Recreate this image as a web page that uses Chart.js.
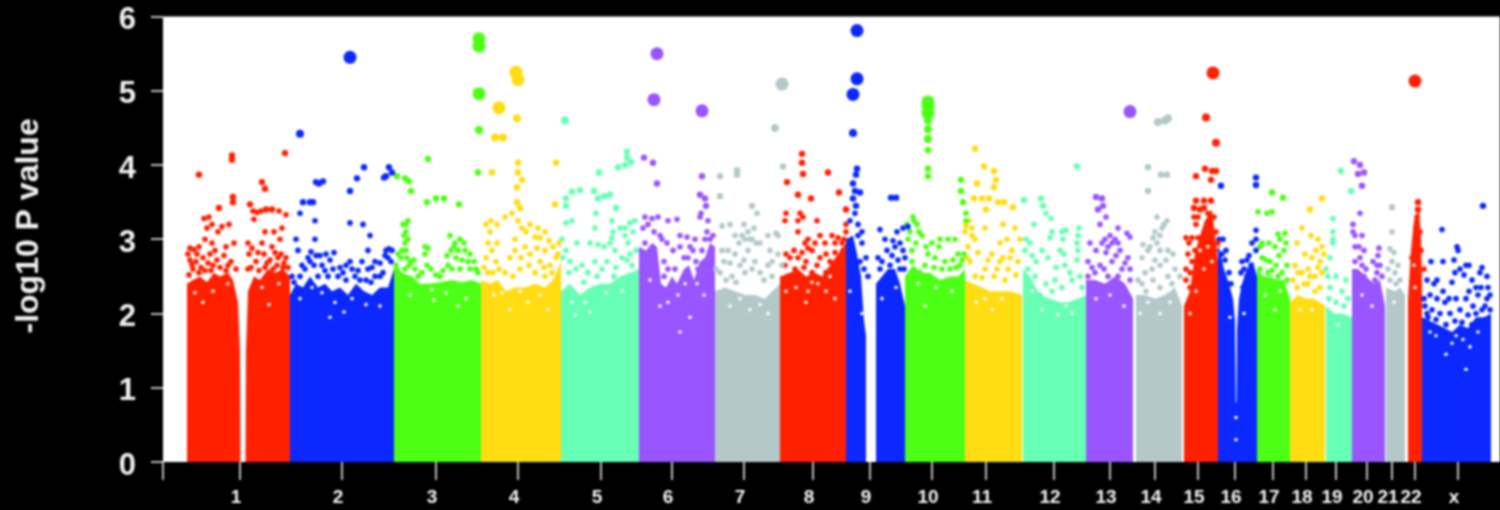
<!DOCTYPE html>
<html><head><meta charset="utf-8">
<style>html,body{margin:0;padding:0;background:#000;overflow:hidden}#w{width:1500px;height:510px}canvas{filter:blur(0.9px)}</style>
<script src="https://cdn.jsdelivr.net/npm/chart.js@4/dist/chart.umd.min.js"></script>
</head><body><div id="w"><canvas id="c" width="1500" height="510"></canvas></div>
<script>
const yTickValues=[0,1,2,3,4,5,6];
const chromLabels=['1','2','3','4','5','6','7','8','9','10','11','12','13','14','15','16','17','18','19','20','21','22','x'];
const chromTicks=[240,342,436,518,601,672,744,813,870,932,986,1054,1110,1155,1198,1235,1273,1306,1336,1367,1392,1415,1458];
const originTick=163;
const red='#ff2000',blue='#0a28ff',green='#4cff14',gold='#ffdd12',aqua='#66ffb4',purple='#9955ff',grey='#b4c8ca';
const chromColors=[red,blue,green,gold,aqua,purple,grey,red,blue,green,gold,aqua,purple,grey,red,blue,green,gold,aqua,purple,grey,red,blue];

// dense lower mass of each chromosome: [position, -log10 P] outline
const body1=[[187,0],[187,2.4],[193,2.45],[200,2.5],[207,2.42],[214,2.55],[220,2.5],[228,2.55],[233,2.45],[238,2.15],[240,1.5],[240.5,0],[245.5,0],[246,1.5],[248,2.3],[254,2.5],[260,2.45],[268,2.6],[275,2.55],[283,2.6],[290,2.5],[290,0]];
const body2=[[290,0],[290,2.25],[296,2.4],[303,2.35],[310,2.5],[318,2.35],[325,2.4],[332,2.3],[340,2.35],[348,2.25],[356,2.4],[364,2.3],[372,2.25],[380,2.35],[388,2.35],[394,2.6],[394,0]];
const body3=[[394,0],[394,2.7],[402,2.55],[412,2.5],[420,2.4],[430,2.4],[440,2.42],[452,2.45],[462,2.42],[472,2.45],[481,2.4],[481,0]];
const body4=[[481,0],[481,2.45],[490,2.4],[498,2.45],[506,2.3],[515,2.35],[525,2.35],[535,2.4],[545,2.35],[553,2.45],[561,2.7],[561,0]];
const body5=[[561,0],[561,2.3],[570,2.4],[580,2.25],[590,2.35],[600,2.4],[610,2.4],[620,2.5],[630,2.55],[639,2.6],[639,0]];
const body6=[[639,0],[639,2.9],[646,2.85],[652,2.95],[657,2.9],[661,2.4],[666,2.35],[672,2.5],[677,2.4],[684,2.6],[689,2.65],[694,2.45],[700,2.7],[705,2.75],[710,2.95],[715,2.9],[715,0]];
const body7=[[715,0],[715,2.3],[725,2.35],[735,2.3],[745,2.25],[755,2.25],[765,2.2],[772,2.3],[780,2.4],[780,0]];
const body8=[[780,0],[780,2.5],[790,2.55],[798,2.6],[806,2.5],[815,2.55],[822,2.5],[830,2.65],[838,2.8],[846,2.95],[846,0]];
const body9=[[846,0],[846,3.0],[853,3.05],[857,2.8],[861,2.5],[864,1.9],[866,1.7],[866,0],[876,0],[876,2.4],[882,2.5],[888,2.6],[895,2.6],[900,2.4],[905,2.1],[905,0]];
const body10=[[905,0],[905,2.5],[913,2.65],[922,2.55],[930,2.55],[940,2.45],[950,2.5],[958,2.5],[965,2.6],[965,0]];
const body11=[[965,0],[965,2.45],[973,2.4],[982,2.35],[990,2.3],[1000,2.3],[1010,2.3],[1022,2.25],[1022,0]];
const body12=[[1023,0],[1023,2.6],[1030,2.5],[1040,2.25],[1050,2.2],[1060,2.15],[1068,2.15],[1078,2.2],[1086,2.25],[1086,0]];
const body13=[[1086,0],[1086,2.45],[1095,2.45],[1105,2.4],[1115,2.5],[1125,2.4],[1133,2.2],[1133,0]];
const body14=[[1136,0],[1136,2.25],[1145,2.25],[1155,2.2],[1165,2.25],[1175,2.35],[1182,2.1],[1182,0]];
const body15=[[1184,0],[1184,2.1],[1190,2.3],[1195,2.8],[1200,3.05],[1205,3.25],[1212,3.4],[1215,3.05],[1218,2.7],[1218,0]];
const body16=[[1218,0],[1218,2.95],[1224,2.6],[1229,2.4],[1233,2.2],[1235,1.9],[1235.7,0.8],[1236.5,0.8],[1237,1.8],[1239,2.2],[1242,2.4],[1247,2.6],[1253,2.7],[1257,2.5],[1257,0]];
const body17=[[1257,0],[1257,2.6],[1264,2.5],[1270,2.5],[1277,2.45],[1284,2.45],[1290,2.2],[1290,0]];
const body18=[[1290,0],[1290,2.15],[1298,2.25],[1306,2.2],[1314,2.2],[1325,2.1],[1325,0]];
const body19=[[1326,0],[1326,2.1],[1334,2.0],[1342,2.0],[1352,1.95],[1352,0]];
const body20=[[1352,0],[1352,2.6],[1358,2.6],[1366,2.5],[1374,2.4],[1380,2.45],[1385,2.1],[1385,0]];
const body21=[[1386,0],[1386,2.35],[1395,2.3],[1400,2.35],[1405,2.25],[1405,0]];
const body22=[[1408,0],[1408,2.2],[1411,2.85],[1414,3.25],[1419,3.4],[1421,3.0],[1422,2.4],[1422,0]];
const bodyX=[[1422,0],[1422,1.95],[1430,1.9],[1438,1.85],[1445,1.8],[1452,1.75],[1460,1.85],[1468,1.8],[1476,1.95],[1484,1.95],[1491,2.0],[1491,0]];

// individually visible points: [position, -log10 P]
const dots1=[[199,3.87],[232,4.13],[232,4.07],[285,4.16],[262,3.77],[265,3.68],[233,3.57],[233,3.5],[250,3.47],[219,3.42],[204,3.28],[209,3.3],[253,3.38],[257,3.36],[261,3.38],[266,3.4],[272,3.4],[279,3.38],[286,3.33],[254,3.27],[212,3.2],[207,3.15],[222,3.17],[229,3.2],[218,3.1],[265,3.1],[274,3.1],[282,3.15],[234,2.95],[248,2.95],[190,2.88],[194,2.86],[199,2.9],[205,3.0],[212,2.95],[226,2.9],[262,2.95],[272,2.9],[280,3.0],[190,2.72],[196,2.7],[203,2.75],[210,2.8],[217,2.72],[224,2.78],[231,2.7],[249,2.8],[256,2.7],[264,2.8],[270,2.72],[278,2.75],[284,2.68],[193,2.6],[205,2.58],[213,2.65],[236,2.6],[251,2.62],[259,2.58],[273,2.6],[288,2.62],[188,2.8],[192,2.66],[197,2.8],[201,2.62],[208,2.68],[215,2.85],[220,2.62],[228,2.65],[252,2.88],[258,2.82],[267,2.68],[275,2.82],[281,2.8],[286,2.75],[248,2.6],[265,2.62],[189,2.52],[199,2.55],[211,2.58],[226,2.58],[283,2.62],[277,2.65]];
const dots2=[[350,5.45],[300,4.42],[364,3.97],[389,3.97],[392,3.9],[386,3.85],[384,3.83],[316,3.77],[319,3.75],[323,3.78],[357,3.82],[350,3.65],[303,3.5],[310,3.5],[313,3.5],[300,3.35],[315,3.25],[350,3.22],[363,3.2],[370,3.05],[296,3.0],[315,3.0],[389,2.87],[386,2.85],[298,2.85],[311,2.83],[316,2.78],[326,2.8],[334,2.82],[368,2.85],[388,2.75],[302,2.65],[310,2.7],[322,2.65],[333,2.6],[346,2.65],[352,2.6],[362,2.7],[368,2.6],[375,2.7],[292,2.5],[300,2.5],[318,2.5],[328,2.5],[338,2.5],[346,2.45],[355,2.5],[366,2.45],[375,2.5],[383,2.55],[308,2.75],[314,2.65],[320,2.78],[330,2.72],[340,2.62],[350,2.7],[358,2.58],[372,2.62],[380,2.68],[385,2.78],[391,2.7],[294,2.42],[305,2.6],[325,2.58],[343,2.55],[360,2.45],[371,2.42],[380,2.5],[392,2.85]];
const dots3=[[479,5.7],[479,5.6],[479,4.96],[479,4.47],[478,3.9],[428,4.08],[397,3.85],[405,3.82],[409,3.78],[411,3.65],[427,3.5],[436,3.55],[444,3.55],[459,3.47],[408,3.25],[406,3.2],[428,2.88],[425,2.9],[405,2.95],[406,2.85],[398,2.8],[401,2.75],[407,2.75],[411,2.7],[404,3.05],[406,3.1],[450,3.05],[454,2.9],[460,3.0],[464,2.95],[455,2.95],[447,2.78],[456,2.75],[465,2.85],[470,2.8],[425,2.8],[427,2.65],[405,2.6],[415,2.6],[452,2.6],[460,2.6],[470,2.6],[478,2.55],[398,2.55],[440,2.5],[403,3.2],[408,3.0],[396,2.65],[402,2.85],[409,2.65],[414,2.72],[422,2.55],[431,2.6],[443,2.58],[448,2.65],[451,2.85],[458,2.85],[462,2.72],[468,2.7],[474,2.7],[476,2.6],[436,2.52],[418,2.5]];
const dots4=[[516,5.25],[518,5.15],[499,4.77],[517,4.63],[495,4.37],[503,4.37],[518,4.03],[556,4.03],[518,3.9],[522,3.8],[517,3.7],[492,3.9],[517,3.5],[520,3.42],[512,3.35],[555,3.47],[505,3.3],[530,3.2],[491,3.25],[497,3.2],[522,3.15],[538,3.15],[545,3.1],[535,3.03],[490,3.1],[488,2.95],[497,2.95],[515,3.0],[525,2.9],[545,2.85],[553,2.9],[559,2.95],[486,2.75],[496,2.7],[510,2.75],[530,2.8],[540,2.7],[550,2.65],[488,2.55],[505,2.55],[520,2.6],[535,2.55],[545,2.5],[518,3.25],[526,3.1],[540,3.02],[549,2.98],[492,2.85],[486,3.2],[499,2.6],[515,2.85],[521,2.75],[529,2.65],[537,2.88],[544,2.62],[556,2.75],[484,2.62],[493,2.55],[513,2.5],[552,2.55],[558,2.8]];
const dots5=[[565,4.6],[599,3.9],[618,3.97],[625,4.0],[631,4.04],[627,4.18],[627,4.1],[580,3.66],[572,3.64],[566,3.55],[566,3.45],[594,3.65],[598,3.55],[604,3.58],[610,3.6],[616,3.42],[596,3.35],[566,3.22],[572,3.25],[595,3.15],[612,3.25],[613,3.1],[620,3.15],[625,3.05],[630,3.22],[635,3.25],[628,2.95],[630,2.8],[562,3.0],[566,2.85],[577,2.95],[590,2.95],[598,2.93],[604,2.9],[610,2.95],[615,2.85],[622,2.75],[570,2.7],[582,2.65],[602,2.6],[632,2.65],[612,3.02],[625,3.15],[633,3.1],[563,2.75],[569,2.55],[576,2.6],[588,2.55],[595,2.7],[607,2.7],[616,2.62],[627,2.72],[636,2.85],[584,2.42],[597,2.5],[614,2.5]];
const dots6=[[657,5.5],[654,4.88],[702,4.73],[644,4.1],[653,4.03],[702,3.85],[657,3.75],[700,3.6],[705,3.55],[706,3.45],[701,3.35],[708,3.25],[700,3.3],[713,3.05],[707,3.1],[645,3.3],[652,3.28],[658,3.3],[668,3.25],[677,3.27],[643,3.15],[648,3.2],[654,3.1],[662,3.0],[680,3.05],[687,3.03],[695,3.0],[710,3.0],[645,2.95],[680,2.9],[690,2.9],[702,2.85],[684,2.75],[696,2.7],[708,2.7],[668,2.6],[673,2.85],[688,2.75],[700,2.5],[710,2.5],[664,2.7],[675,2.6],[693,2.85],[698,2.6],[705,3.0],[667,2.95],[660,3.05],[664,2.5]];
const dots7=[[782,5.09],[775,4.5],[737,3.93],[737,3.87],[720,3.85],[783,3.98],[720,3.58],[752,3.45],[757,3.35],[730,3.2],[722,3.18],[744,3.2],[748,3.1],[754,3.15],[768,3.05],[778,3.05],[735,3.05],[745,3.0],[752,3.0],[760,2.95],[728,2.85],[735,2.8],[748,2.85],[778,2.8],[724,2.7],[740,2.65],[755,2.7],[772,2.7],[782,2.65],[720,2.55],[732,2.5],[745,2.55],[760,2.55],[772,2.5],[742,3.05],[739,2.95],[750,3.0],[756,2.95],[776,3.08],[770,2.85],[768,2.65],[730,2.68],[744,2.72],[722,2.85],[716,2.6],[752,2.6],[764,2.45],[736,2.42],[726,2.45]];
const dots8=[[802,4.15],[802,4.03],[803,3.88],[828,3.9],[787,3.77],[839,3.63],[798,3.6],[811,3.55],[786,3.35],[785,3.25],[800,3.35],[803,3.3],[798,3.25],[817,3.25],[846,3.4],[846,3.2],[846,3.1],[798,3.1],[808,3.0],[820,3.05],[805,2.95],[812,2.85],[825,2.95],[835,2.95],[843,2.85],[790,2.75],[798,2.75],[806,2.7],[820,2.75],[830,2.7],[840,2.7],[785,2.65],[795,2.6],[826,2.55],[812,2.55],[836,2.55],[788,2.5],[802,2.82],[815,2.95],[808,2.88],[832,3.05],[838,3.02],[844,3.0],[786,2.8],[794,2.85],[826,2.8],[817,2.65],[804,2.62],[842,2.95],[835,2.82]];
const dots9=[[857,5.81],[857,5.16],[853,4.95],[853,4.43],[857,3.95],[856,3.87],[853,3.75],[855,3.65],[860,3.63],[853,3.55],[856,3.45],[855,3.35],[858,3.2],[891,3.56],[896,3.56],[880,3.13],[897,3.1],[903,3.15],[908,3.17],[893,2.98],[885,3.0],[887,2.85],[895,2.9],[900,2.95],[905,2.75],[882,2.7],[890,2.65],[900,2.6],[858,3.05],[862,2.95],[866,2.75],[868,2.5],[860,2.7],[864,2.6],[850,3.25],[862,3.1],[878,2.75],[892,2.78],[898,2.72],[903,2.85],[904,2.6],[880,2.6]];
const dots10=[[928,4.85],[928,4.8],[928,4.7],[928,4.6],[928,4.48],[928,4.35],[928,4.2],[928,3.95],[928,3.85],[961,3.8],[961,3.65],[963,3.5],[966,3.35],[966,3.25],[913,3.3],[917,3.2],[910,3.1],[922,3.05],[932,2.95],[940,3.0],[948,3.0],[955,3.0],[928,2.8],[912,2.85],[925,2.65],[935,2.75],[945,2.7],[958,2.8],[962,2.72],[912,2.7],[920,2.55],[950,2.6],[907,3.2],[914,3.25],[919,3.1],[926,2.9],[908,3.0],[916,2.95],[939,2.9],[953,2.72],[960,2.65],[964,2.8],[934,2.62],[942,2.6],[956,2.62]];
const dots11=[[975,4.22],[984,3.98],[994,3.92],[996,3.8],[994,3.7],[977,3.75],[974,3.55],[982,3.55],[989,3.55],[998,3.5],[1004,3.5],[1013,3.43],[986,3.4],[969,3.25],[972,3.15],[965,3.1],[985,3.15],[1003,3.2],[1015,3.15],[1007,3.0],[1000,2.95],[1020,3.0],[968,2.9],[975,3.0],[992,2.8],[1003,2.75],[1012,2.85],[970,2.7],[985,2.6],[997,2.6],[1008,2.6],[1018,2.7],[975,2.5],[1005,2.45],[966,3.18],[972,3.05],[967,2.75],[978,2.82],[988,2.72],[994,2.5],[1000,2.7],[1016,2.52],[1010,2.75],[982,2.48]];
const dots12=[[1077,3.98],[1024,3.53],[1041,3.55],[1043,3.45],[1046,3.35],[1051,3.28],[1034,3.2],[1050,3.02],[1052,3.1],[1062,3.1],[1066,3.12],[1079,3.15],[1078,3.05],[1026,3.0],[1030,2.95],[1042,2.85],[1060,2.85],[1078,2.85],[1036,2.7],[1048,2.75],[1065,2.65],[1028,2.6],[1035,2.5],[1046,2.4],[1055,2.45],[1062,2.35],[1072,2.45],[1080,2.5],[1026,2.3],[1040,2.25],[1063,3.0],[1077,2.95],[1064,2.8],[1077,2.72],[1025,2.85],[1032,2.78],[1056,2.62],[1070,2.55],[1052,2.3],[1082,2.35]];
const dots13=[[1130,4.72],[1096,3.57],[1102,3.55],[1103,3.45],[1098,3.4],[1106,3.3],[1100,3.2],[1118,3.15],[1127,3.08],[1130,3.03],[1105,3.0],[1110,3.05],[1115,3.0],[1090,2.95],[1096,2.85],[1108,2.9],[1120,2.85],[1128,2.75],[1088,2.7],[1100,2.65],[1112,2.7],[1122,2.6],[1095,2.55],[1108,2.5],[1118,2.5],[1130,2.45],[1106,2.82],[1112,2.95],[1102,2.95],[1118,2.95],[1125,2.68],[1092,2.62],[1116,2.78],[1130,2.6],[1088,2.5],[1104,2.6]];
const dots14=[[1158,4.58],[1165,4.6],[1168,4.63],[1148,3.97],[1161,3.87],[1167,3.87],[1148,3.65],[1157,3.3],[1167,3.25],[1162,3.15],[1155,3.1],[1160,3.05],[1157,2.95],[1143,2.93],[1150,2.9],[1160,2.85],[1168,2.85],[1173,2.8],[1142,2.75],[1160,2.65],[1175,2.6],[1145,2.55],[1153,2.45],[1168,2.5],[1142,2.4],[1160,2.35],[1164,3.2],[1153,3.02],[1148,2.85],[1155,2.72],[1166,2.72],[1146,2.3],[1172,2.4],[1152,2.6],[1180,2.5],[1138,2.45]];
const dots15=[[1213,5.24],[1206,4.64],[1216,4.3],[1205,3.95],[1212,3.92],[1216,3.92],[1196,3.85],[1211,3.8],[1196,3.52],[1204,3.52],[1211,3.52],[1194,3.42],[1200,3.4],[1194,3.3],[1208,3.35],[1196,3.2],[1186,3.02],[1192,3.02],[1198,3.02],[1188,2.8],[1195,2.85],[1192,2.7],[1200,2.75],[1186,2.6],[1195,2.5],[1190,2.35],[1202,2.4],[1204,3.42],[1198,3.3],[1214,3.3],[1186,2.45],[1190,2.55],[1216,3.1],[1218,2.95],[1215,2.85],[1189,2.95]];
const dots16=[[1221,3.72],[1219,3.0],[1223,3.0],[1226,2.85],[1229,2.55],[1228,2.4],[1256,3.83],[1256,3.73],[1256,3.12],[1256,3.0],[1252,2.95],[1256,2.85],[1242,2.7],[1247,2.72],[1251,2.65],[1241,2.55],[1247,2.5],[1253,2.5],[1243,2.35],[1225,2.72],[1222,2.8],[1231,2.4],[1249,2.78],[1244,2.6]];
const dots17=[[1272,3.63],[1283,3.56],[1258,3.37],[1267,3.35],[1272,3.37],[1278,3.07],[1285,3.08],[1280,3.0],[1262,2.95],[1269,2.95],[1286,2.95],[1275,2.9],[1284,2.85],[1262,2.75],[1270,2.7],[1276,2.65],[1260,2.6],[1268,2.55],[1282,2.55],[1287,2.65],[1260,2.9],[1266,2.72],[1279,2.78],[1272,2.58],[1287,2.45],[1278,2.5]];
const dots18=[[1322,3.55],[1310,3.4],[1302,3.15],[1311,3.05],[1318,3.0],[1322,2.9],[1297,2.95],[1305,2.8],[1312,2.75],[1320,2.7],[1295,2.65],[1302,2.55],[1315,2.5],[1322,2.55],[1308,2.4],[1297,2.35],[1315,2.3],[1320,2.35],[1316,2.85],[1324,2.8],[1298,2.55],[1308,2.6],[1293,2.45],[1304,2.4],[1318,2.62],[1310,2.5]];
const dots19=[[1341,3.92],[1351,3.65],[1333,3.28],[1333,3.0],[1333,2.95],[1330,2.75],[1326,2.6],[1336,2.5],[1346,2.45],[1330,2.35],[1342,2.3],[1348,2.2],[1336,2.15],[1333,3.1],[1328,2.5],[1344,2.1],[1329,2.2]];
const dots20=[[1354,4.05],[1360,4.0],[1358,3.88],[1364,3.9],[1362,3.72],[1360,3.35],[1353,3.2],[1355,3.05],[1359,2.9],[1364,2.85],[1379,2.88],[1377,2.65],[1355,2.7],[1362,2.65],[1373,2.7],[1377,2.55],[1356,2.5],[1364,2.5],[1375,2.45],[1382,2.5],[1353,3.1],[1362,3.05],[1355,2.9],[1378,2.78],[1380,2.65],[1360,2.75],[1366,2.6]];
const dots21=[[1392,3.43],[1392,3.1],[1390,2.87],[1394,2.82],[1398,2.65],[1395,2.55],[1400,2.45],[1390,2.45],[1392,2.7],[1388,2.6],[1396,2.4]];
const dots22=[[1415,5.13],[1418,3.5],[1418,3.4],[1420,3.1],[1421,2.85],[1412,2.75],[1424,2.6],[1417,3.3],[1416,3.15],[1415,2.95]];
const dotsX=[[1483,3.45],[1442,3.13],[1457,2.9],[1458,2.85],[1431,2.7],[1443,2.7],[1454,2.72],[1466,2.65],[1469,2.65],[1482,2.62],[1455,2.55],[1460,2.6],[1472,2.45],[1480,2.55],[1427,2.45],[1437,2.45],[1487,2.5],[1481,2.35],[1488,2.35],[1478,2.25],[1487,2.2],[1430,2.25],[1437,2.2],[1445,2.15],[1456,2.2],[1466,2.2],[1473,2.1],[1482,2.05],[1490,2.05],[1425,2.1],[1432,2.05],[1440,2.0],[1450,2.0],[1460,2.05],[1468,1.98],[1476,2.0],[1428,1.95],[1436,1.92],[1446,1.85],[1455,1.9],[1462,1.88],[1472,1.85],[1488,1.9],[1424,2.2],[1434,2.4],[1452,2.42],[1464,2.52],[1476,2.35],[1443,2.3],[1449,2.2],[1427,2.0],[1485,2.1],[1469,2.3],[1490,2.25]];
const allBodies=[body1,body2,body3,body4,body5,body6,body7,body8,body9,body10,body11,body12,body13,body14,body15,body16,body17,body18,body19,body20,body21,body22,bodyX];
const allDots=[dots1,dots2,dots3,dots4,dots5,dots6,dots7,dots8,dots9,dots10,dots11,dots12,dots13,dots14,dots15,dots16,dots17,dots18,dots19,dots20,dots21,dots22,dotsX];
// empty specks inside the dense mass
const gaps=[[195,2.28],[213,2.3],[228,2.4],[262,2.35],[279,2.4],[203,2.15],[269,2.12],[300,2.2],[322,2.28],[335,2.15],[352,2.2],[366,2.12],[380,2.1],[312,2.35],[344,2.02],[330,1.95],[410,2.25],[434,2.18],[446,2.28],[466,2.2],[432,2.32],[458,2.1],[494,2.25],[510,2.05],[528,2.15],[548,2.05],[502,2.28],[520,2.3],[540,2.25],[572,2.15],[585,2.15],[606,2.28],[622,2.3],[575,1.98],[590,2.02],[668,2.15],[678,2.25],[690,1.95],[704,2.25],[650,2.45],[680,1.75],[697,2.4],[685,2.4],[660,2.1],[730,2.1],[750,2.05],[760,2.12],[740,2.2],[768,2.0],[786,2.3],[808,2.3],[812,2.42],[826,2.3],[835,2.2],[818,2.4],[806,2.15],[796,2.35],[830,2.5],[882,2.2],[896,2.35],[850,2.3],[862,2.0],[918,2.4],[936,2.35],[952,2.3],[925,2.1],[976,2.15],[992,2.05],[1002,2.2],[985,2.2],[1042,2.05],[1058,1.98],[1072,2.0],[1066,2.1],[1032,2.3],[1096,2.2],[1110,2.25],[1124,2.1],[1148,2.15],[1160,2.0],[1170,2.15],[1140,2.0],[1190,2.0],[1196,2.3],[1204,2.6],[1208,2.9],[1200,2.85],[1212,2.7],[1230,1.95],[1236,0.6],[1236,0.3],[1244,2.0],[1265,2.25],[1280,2.3],[1275,2.05],[1300,2.05],[1312,2.05],[1338,1.85],[1362,2.25],[1372,2.1],[1394,2.15],[1436,1.7],[1446,1.45],[1452,1.6],[1463,1.65],[1466,1.25],[1470,1.55],[1478,1.75],[1430,1.75],[1456,1.7],[1414,2.65],[1415,2.35]];

const datasets=[];
const radiusFor=v=>v>=4.7?6.5:v>=4.25?4:v>=3.4?3.2:2.8;
allDots.forEach((d,i)=>datasets.push({type:'scatter',order:1,label:'chr'+chromLabels[i],data:d.map(p=>({x:p[0],y:p[1]})),backgroundColor:chromColors[i],borderWidth:0,pointRadius:c=>radiusFor(c.parsed.y),pointHoverRadius:3,clip:false}));
datasets.push({type:'scatter',order:2,label:'gaps',data:gaps.map(p=>({x:p[0],y:p[1]})),backgroundColor:'#fff',borderWidth:0,pointRadius:1.8});
allBodies.forEach((d,i)=>datasets.push({type:'scatter',order:3,label:'mass'+chromLabels[i],data:d.map(p=>({x:p[0],y:p[1]})),showLine:true,fill:'origin',backgroundColor:chromColors[i],borderColor:chromColors[i],borderWidth:0,pointRadius:0,tension:0}));

const plotWhite={id:'plotWhite',beforeDraw(c){const a=c.chartArea,g=c.ctx;g.save();g.fillStyle='#000';g.fillRect(0,0,c.width,c.height);g.fillStyle='#fff';g.fillRect(a.left,a.top,a.right-a.left,a.bottom-a.top);g.restore();}};

new Chart(document.getElementById('c'),{
  data:{datasets},
  plugins:[plotWhite],
  options:{
    responsive:false,animation:false,
    layout:{autoPadding:false,padding:{top:16.5,left:0,right:0,bottom:0}},
    plugins:{legend:{display:false},tooltip:{enabled:false}},
    scales:{
      x:{type:'linear',min:163,max:1500,
        afterBuildTicks(s){s.ticks=[originTick].concat(chromTicks).map(v=>({value:v}));},
        afterTickToLabelConversion(s){s.ticks.forEach((t,i)=>t.label=i?chromLabels[i-1]:'');},
        afterFit(s){s.height=48;s.paddingLeft=0;s.paddingRight=0;},
        border:{display:false},
        grid:{drawOnChartArea:false,drawTicks:true,tickLength:18,color:'#bbb',lineWidth:2},
        ticks:{autoSkip:false,maxRotation:0,minRotation:0,color:'#f4f4f4',font:{family:'Liberation Sans',weight:'bold',size:19},padding:6,labelOffset:-4}
      },
      y:{type:'linear',min:0,max:6,
        afterBuildTicks(s){s.ticks=yTickValues.map(v=>({value:v}));},
        afterFit(s){s.width=163;s.paddingTop=0;s.paddingBottom=0;},
        border:{display:false},
        grid:{drawOnChartArea:false,tickLength:12,color:'#bbb',lineWidth:2},
        ticks:{color:'#f0f0f0',font:{family:'Liberation Sans',weight:'bold',size:31},padding:15,labelOffset:4},
        title:{display:true,text:'   -log10 P value',color:'#f0f0f0',font:{family:'Liberation Sans',weight:'bold',size:32},padding:{top:10,bottom:0}}
      }
    }
  }
});
</script></body></html>
